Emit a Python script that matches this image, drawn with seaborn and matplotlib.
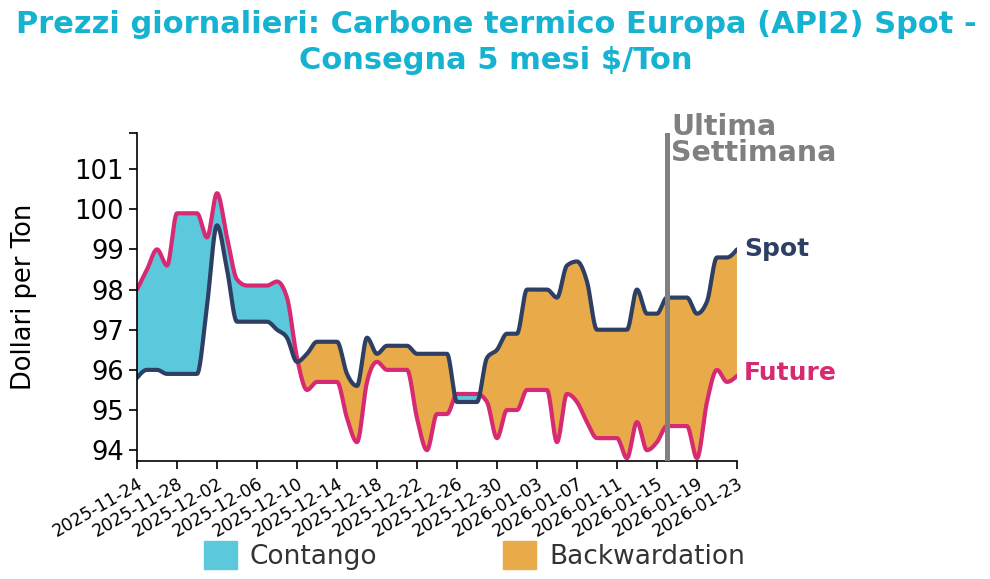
import numpy as np
import pandas as pd
import seaborn as sns
import matplotlib.pyplot as plt
from matplotlib.patches import Patch

# dati giornalieri (weekend riportati dal venerdi)
start_date = '2025-11-24'
end_date = '2026-01-23'
last_week_date = '2026-01-16'

spot = [95.8, 96.0, 96.0, 95.9, 95.9, 95.9, 95.9, 97.6, 99.6, 98.5,
        97.2, 97.2, 97.2, 97.2, 97.0, 96.8, 96.2, 96.4, 96.7, 96.7,
        96.7, 95.9, 95.6, 96.8, 96.4, 96.6, 96.6, 96.6, 96.4, 96.4,
        96.4, 96.4, 95.2, 95.2, 95.2, 96.3, 96.5, 96.9, 96.9, 98.0,
        98.0, 98.0, 97.8, 98.6, 98.7, 98.2, 97.0, 97.0, 97.0, 97.0,
        98.0, 97.4, 97.4, 97.8, 97.8, 97.8, 97.4, 97.7, 98.8, 98.8,
        99.0]

future = [98.0, 98.5, 99.0, 98.6, 99.9, 99.9, 99.9, 99.3, 100.4, 99.3,
          98.25, 98.1, 98.1, 98.1, 98.2, 97.8, 96.3, 95.5, 95.7, 95.7,
          95.7, 94.8, 94.2, 95.7, 96.2, 96.0, 96.0, 96.0, 94.8, 94.0,
          94.9, 94.9, 95.4, 95.4, 95.4, 95.2, 94.3, 95.0, 95.0, 95.5,
          95.5, 95.5, 94.2, 95.4, 95.2, 94.7, 94.3, 94.3, 94.3, 93.8,
          94.7, 94.0, 94.2, 94.6, 94.6, 94.6, 93.8, 95.2, 96.0, 95.7,
          95.85]

y_ticks = [94, 95, 96, 97, 98, 99, 100, 101]

dates = pd.date_range(start_date, end_date)
idx = np.arange(len(dates))


# curva monotona (come d3.curveMonotoneX) solo per il disegno
def monotone(y, n=20):
    y = np.asarray(y, dtype=float)
    s = np.diff(y)
    t = np.zeros_like(y)
    for i in range(1, len(y) - 1):
        s0, s1 = s[i - 1], s[i]
        p = (s0 + s1) / 2
        t[i] = (np.sign(s0) + np.sign(s1)) * min(abs(s0), abs(s1), 0.5 * abs(p))
    t[0] = (3 * s[0] - t[1]) / 2
    t[-1] = (3 * s[-1] - t[-2]) / 2
    xs, ys = [], []
    u = np.linspace(0, 1, n, endpoint=False)
    for i in range(len(y) - 1):
        h00 = 2 * u**3 - 3 * u**2 + 1
        h10 = u**3 - 2 * u**2 + u
        h01 = -2 * u**3 + 3 * u**2
        h11 = u**3 - u**2
        xs.append(i + u)
        ys.append(h00 * y[i] + h10 * t[i] + h01 * y[i + 1] + h11 * t[i + 1])
    xs.append([len(y) - 1])
    ys.append([y[-1]])
    return np.concatenate(xs), np.concatenate(ys)


xs, spot_s = monotone(spot)
_, fut_s = monotone(future)

navy = '#2f3f64'
pink = '#d62a72'
cyan = '#5bc8dc'
orange = '#e9ab4a'

sns.set_style('white')
plt.rcParams['font.family'] = ['DejaVu Sans']

fig = plt.figure(figsize=(9.9, 5.79), dpi=100)
ax = fig.add_axes([0.1384, 0.2038, 0.606, 0.5665])

ax.fill_between(xs, spot_s, fut_s, where=fut_s >= spot_s, interpolate=True,
                color=cyan, linewidth=0)
ax.fill_between(xs, spot_s, fut_s, where=spot_s >= fut_s, interpolate=True,
                color=orange, linewidth=0)
sns.lineplot(x=xs, y=fut_s, ax=ax, color=pink, linewidth=3, sort=False)
sns.lineplot(x=xs, y=spot_s, ax=ax, color=navy, linewidth=3, sort=False)

# ultima settimana
lw = dates.get_loc(pd.Timestamp(last_week_date))
ax.axvline(lw, color='#808080', linewidth=3.6, zorder=5)
ax.text(lw + 0.45, 1.062, 'Ultima\nSettimana', transform=ax.get_xaxis_transform(),
        color='#808080', fontsize=20.5, fontweight='bold', va='top', ha='left',
        linespacing=0.93)

ax.text(idx[-1] + 0.7, spot[-1], 'Spot', color=navy, fontsize=18,
        fontweight='bold', va='center', ha='left')
ax.text(idx[-1] + 0.7, future[-1] + 0.07, 'Future', color=pink, fontsize=18,
        fontweight='bold', va='center', ha='left')

ax.set_xlim(0, idx[-1])
ax.set_ylim(93.73, 101.9)
ax.set_yticks(y_ticks + [101.9])
ax.set_yticklabels([str(v) for v in y_ticks] + [''], fontsize=18.5, color='black')
ax.set_xticks(idx[::4])
ax.set_xticklabels(dates[::4].strftime('%Y-%m-%d'), rotation=30, ha='right',
                   rotation_mode='anchor', fontsize=12.5, color='black')
ax.tick_params(axis='both', length=6, width=1.2, color='black', left=True, bottom=True)
ax.set_ylabel('Dollari per Ton', fontsize=18.5, labelpad=27, color='black')
ax.set_xlabel('')

for side in ['top', 'right']:
    ax.spines[side].set_visible(False)
for side in ['left', 'bottom']:
    ax.spines[side].set_color('black')
    ax.spines[side].set_linewidth(1.2)

fig.text(0.501, 0.982, 'Prezzi giornalieri: Carbone termico Europa (API2) Spot -\nConsegna 5 mesi $/Ton',
         ha='center', va='top', fontsize=22, fontweight='bold', color='#15b3d1',
         linespacing=1.3)

handles = [Patch(color=cyan, label='Contango'), Patch(color=orange, label='Backwardation')]
leg = fig.legend(handles=handles, loc='center', bbox_to_anchor=(0.479, 0.041), ncol=2,
                 frameon=False, fontsize=19, handlelength=1.25, handleheight=1.25,
                 handletextpad=0.5, columnspacing=4.75)
for t in leg.get_texts():
    t.set_color('#333333')

plt.savefig('out.png', dpi=100)
